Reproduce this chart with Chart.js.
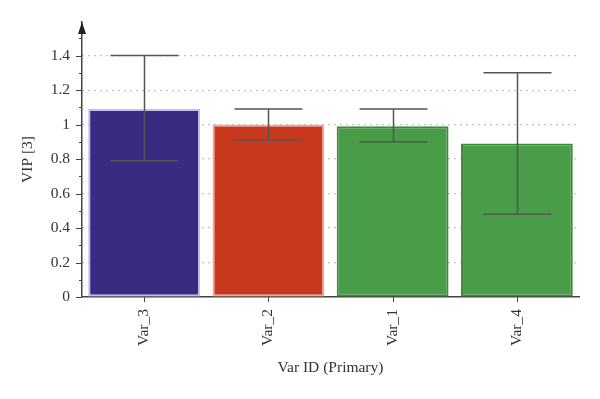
<!DOCTYPE html>
<html>
<head>
<meta charset="utf-8">
<script src="https://cdn.jsdelivr.net/npm/chart.js@4.4.0/dist/chart.umd.min.js"></script>
<style>
    html, body { margin: 0; padding: 0; background: #fff; }
    #wrap { width: 600px; height: 399px; }
</style>
</head>
<body>
<div id="wrap"><canvas id="vipChart"></canvas></div>
<script>
// values
const categories = ['Var_3', 'Var_2', 'Var_1', 'Var_4'];
const vipValues = [1.09, 1.00, 0.99, 0.89];
const errLow = [0.79, 0.91, 0.90, 0.48];
const errHigh = [1.40, 1.09, 1.09, 1.30];
const barColors = ['#392a82', '#c8381c', '#4a9d48', '#4a9d48'];
const barBorders = ['#c4bcf0', '#f2a898', '#3d8a3c', '#3d8a3c'];

const axisColor = '#444';
const textColor = '#333';
const serif = '"Liberation Serif", "DejaVu Serif", serif';

function isMajor(v) {
    return Math.abs(v * 5 - Math.round(v * 5)) < 1e-6;
}

// error bars, axis ticks and the arrow on top of the y axis
const extras = {
    id: 'extras',
    afterDatasetsDraw(chart) {
        const ctx = chart.ctx;
        const x = chart.scales.x;
        const y = chart.scales.y;
        const meta = chart.getDatasetMeta(0);

        ctx.save();
        ctx.strokeStyle = '#555';
        ctx.lineWidth = 1.5;
        meta.data.forEach((bar, i) => {
            const cx = Math.round(bar.x) + 0.5;
            const top = y.getPixelForValue(errHigh[i]);
            const bot = y.getPixelForValue(errLow[i]);
            ctx.beginPath();
            ctx.moveTo(cx, top);
            ctx.lineTo(cx, bot);
            ctx.moveTo(cx - 34, top);
            ctx.lineTo(cx + 34, top);
            ctx.moveTo(cx - 34, bot);
            ctx.lineTo(cx + 34, bot);
            ctx.stroke();
        });

        // y ticks: major every 0.2, minor every 0.1
        ctx.strokeStyle = axisColor;
        ctx.lineWidth = 1;
        const ax = x.left;
        for (let k = 0; k <= 15; k++) {
            const v = k / 10;
            const py = Math.round(y.getPixelForValue(v)) + 0.5;
            const len = k % 2 === 0 ? 6 : 3;
            ctx.beginPath();
            ctx.moveTo(ax - len, py);
            ctx.lineTo(ax, py);
            ctx.stroke();
        }
        // x ticks
        meta.data.forEach(bar => {
            const cx = Math.round(bar.x) + 0.5;
            ctx.beginPath();
            ctx.moveTo(cx, y.bottom);
            ctx.lineTo(cx, y.bottom + 5);
            ctx.stroke();
        });
        // arrow
        ctx.fillStyle = '#222';
        ctx.beginPath();
        ctx.moveTo(ax, chart.chartArea.top);
        ctx.lineTo(ax - 4, chart.chartArea.top + 12);
        ctx.lineTo(ax + 4, chart.chartArea.top + 12);
        ctx.closePath();
        ctx.fill();
        ctx.restore();
    }
};

new Chart(document.getElementById('vipChart'), {
    type: 'bar',
    data: {
        labels: categories,
        datasets: [{
            data: vipValues,
            backgroundColor: barColors,
            borderColor: barBorders,
            borderWidth: 2,
            borderSkipped: false,
            barPercentage: 0.9,
            categoryPercentage: 1.0
        }]
    },
    options: {
        responsive: true,
        maintainAspectRatio: false,
        animation: false,
        layout: { padding: { top: 22, right: 21, left: 0, bottom: 0 } },
        plugins: {
            legend: { display: false },
            tooltip: { enabled: false }
        },
        scales: {
            x: {
                afterFit: s => { s.height = 102; },
                grid: { display: false, drawTicks: false },
                border: { color: axisColor, width: 1.5 },
                ticks: {
                    color: textColor,
                    font: { family: serif, size: 15.5 },
                    maxRotation: 90,
                    minRotation: 90,
                    padding: 12
                },
                title: {
                    display: true,
                    text: 'Var ID (Primary)',
                    color: textColor,
                    font: { family: serif, size: 15.5 },
                    padding: { top: 0, bottom: 22 }
                }
            },
            y: {
                min: 0,
                max: 1.595,
                afterFit: s => { s.width = 82; },
                border: { color: axisColor, width: 1.5, dash: [1, 5] },
                grid: {
                    drawTicks: false,
                    lineWidth: 1.2,
                    color: c => (c.tick && c.tick.value > 0.05 && c.tick.value < 1.45 && isMajor(c.tick.value)) ? '#888' : 'rgba(0,0,0,0)'
                },
                ticks: {
                    stepSize: 0.1,
                    color: textColor,
                    font: { family: serif, size: 15.5 },
                    padding: 12,
                    autoSkip: false,
                    callback: v => (isMajor(v) && v < 1.45) ? String(Math.round(v * 10) / 10) : ''
                },
                title: {
                    display: true,
                    text: 'VIP [3]',
                    color: textColor,
                    font: { family: serif, size: 15.5 },
                    padding: { top: 19, bottom: 0 }
                }
            }
        }
    },
    plugins: [extras]
});
</script>
</body>
</html>
